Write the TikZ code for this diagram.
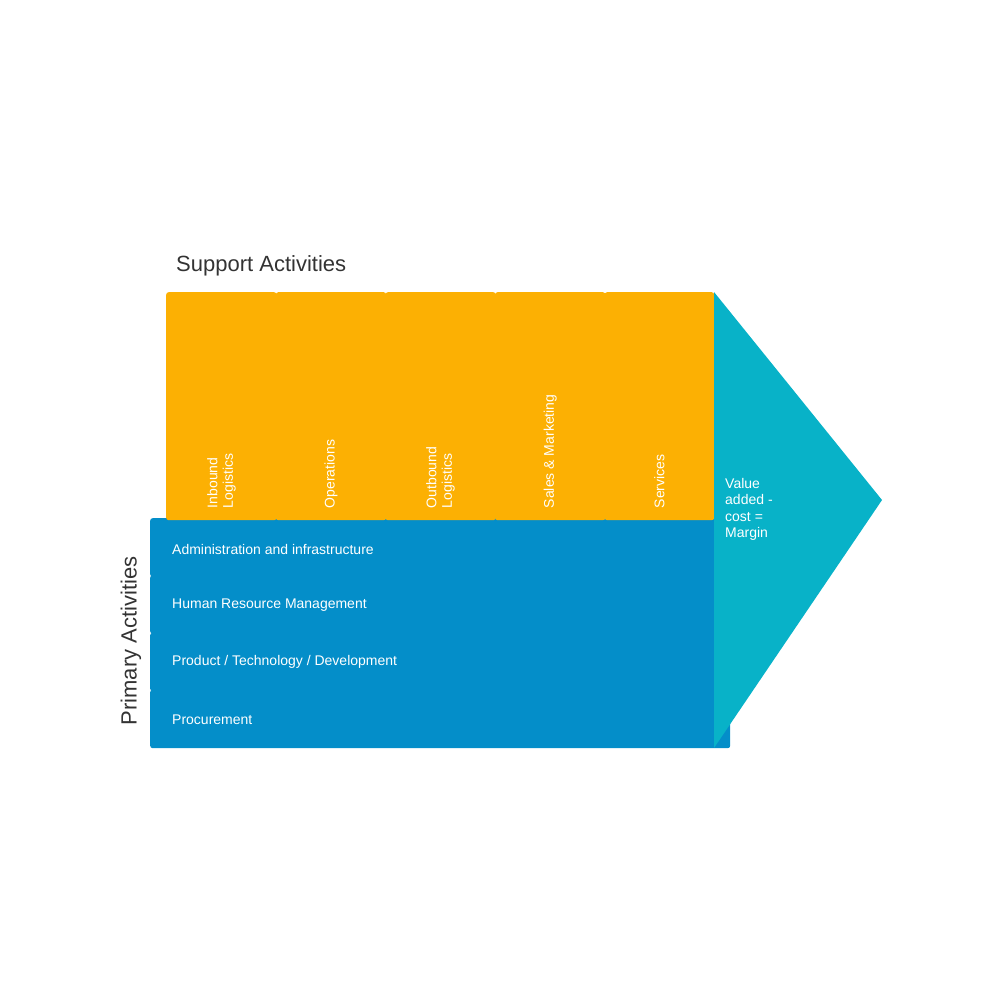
\documentclass[tikz,border=0pt]{standalone}
\usepackage{fontspec}
\setmainfont{Liberation Sans}
\definecolor{supportorange}{HTML}{FCB003}
\definecolor{primaryblue}{HTML}{048EC9}
\definecolor{marginteal}{HTML}{08B2C8}
\definecolor{titlegray}{HTML}{333333}
\begin{document}
\begin{tikzpicture}[x=1pt,y=-1pt,
  rowbox/.style={rectangle, fill=primaryblue, rounded corners=2.5pt, minimum width=580pt, minimum height=58.5pt, inner sep=0pt, anchor=north west},
  colbox/.style={rectangle, fill=supportorange, rounded corners=2.5pt, minimum width=110.4pt, minimum height=228pt, inner sep=0pt, anchor=north west},
  rowlabel/.style={anchor=west, text=white, inner sep=0pt, font=\fontsize{14}{16.8}\selectfont},
  collabel/.style={anchor=west, rotate=90, text=white, inner sep=0pt, align=left, font=\fontsize{14}{15.5}\selectfont},
  heading/.style={text=titlegray, inner sep=0pt, font=\fontsize{22}{26}\selectfont}]
\useasboundingbox (0,0) rectangle (1000,1000);
% primary rows
\node[rowbox] (r1) at (150,518) {};
\node[rowbox] (r2) at (150,575) {};
\node[rowbox] (r3) at (150,632.5) {};
\node[rowbox] (r4) at (150,689.5) {};
% support columns
\node[colbox] (c1) at (166,292) {};
\node[colbox] (c2) at (275.6,292) {};
\node[colbox] (c3) at (385.2,292) {};
\node[colbox] (c4) at (494.8,292) {};
\node[colbox, minimum width=109.6pt] (c5) at (604.4,292) {};
% margin arrow
\coordinate (mtop) at (714,292);
\coordinate (mtip) at (882,500);
\coordinate (mbot) at (714,748);
\fill[marginteal] (mtop) -- (mtip) -- (mbot) -- cycle;
% labels
\node[rowlabel] (l1) at (172,549) {Administration and infrastructure};
\node[rowlabel] (l2) at (172,605) {Human Resource Management};
\node[rowlabel] (l3) at (172,662) {Product / Technology / Development};
\node[rowlabel] (l4) at (172,720) {Procurement};
\node[collabel] (t1) at ([yshift=12pt]c1.south) {Inbound\\Logistics};
\node[collabel] (t2) at ([yshift=12pt]c2.south) {Operations};
\node[collabel] (t3) at ([yshift=12pt]c3.south) {Outbound\\Logistics};
\node[collabel] (t4) at ([yshift=12pt]c4.south) {Sales \& Marketing};
\node[collabel] (t5) at ([yshift=12pt]c5.south) {Services};
\node[anchor=north west, text=white, inner sep=0pt, align=left, font=\fontsize{14}{16.5}\selectfont] (vm) at (725,478) {Value\\added -\\cost =\\Margin};
\node[heading, anchor=base west] (sa) at (176,271.5) {Support Activities};
\node[heading, rotate=90] (pa) at (131,641) {Primary Activities};
\end{tikzpicture}
\end{document}
